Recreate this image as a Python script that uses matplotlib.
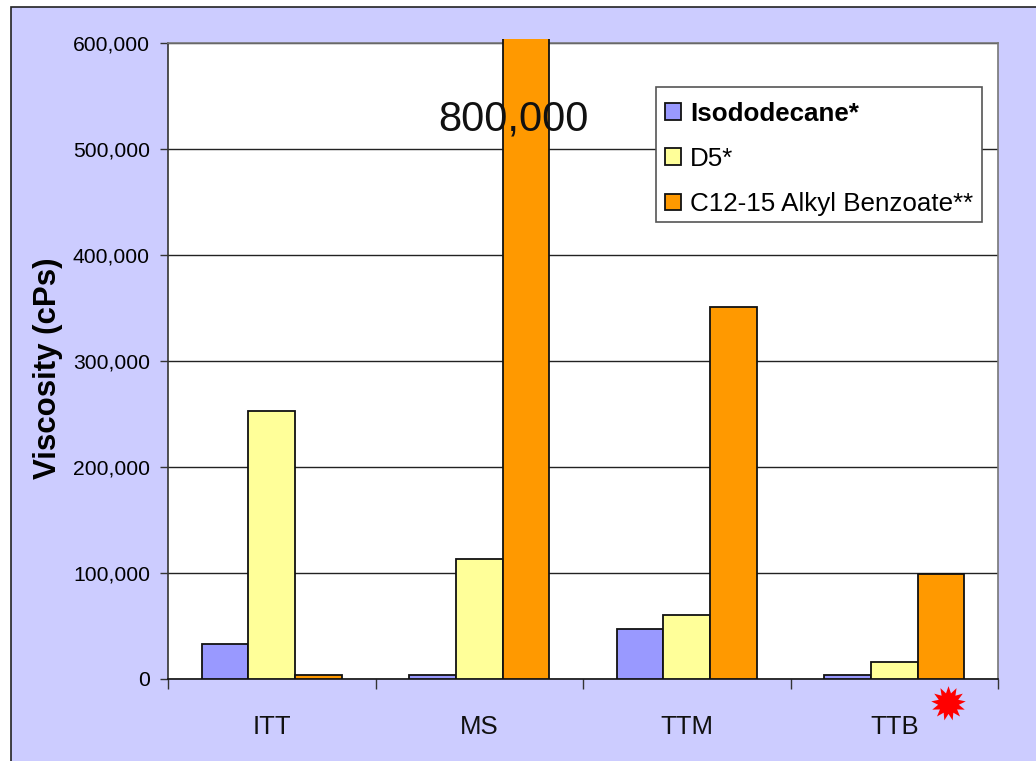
import matplotlib
matplotlib.use("Agg")
import matplotlib.pyplot as plt
from matplotlib.patches import Rectangle
from matplotlib.path import Path
from matplotlib.ticker import FuncFormatter
import numpy as np

plt.rcParams['font.family'] = ['Liberation Sans', 'DejaVu Sans']

categories = ["ITT", "MS", "TTM", "TTB"]
isododecane = [33000, 3000, 47000, 3000]
d5 = [253000, 113000, 60000, 16000]
alkyl_benzoate = [3000, 800000, 351000, 99000]
series_names = ["Isododecane*", "D5*", "C12-15 Alkyl Benzoate**"]
series_colors = ["#9999ff", "#ffff99", "#ff9900"]
y_ticks = [0, 100000, 200000, 300000, 400000, 500000, 600000]

W, H = 1036, 761
fig = plt.figure(figsize=(W / 100, H / 100), dpi=100, facecolor="white")

# chart background, only left and top edges are visible in the crop
fig.patches.append(Rectangle((10.5 / W, -0.1), 1.0, 1.1 - 6.5 / H, transform=fig.transFigure,
                             facecolor="#ccccff", edgecolor="#222222", linewidth=1.2, zorder=-1))

ax = fig.add_axes([168 / W, 1 - 678.5 / H, (998 - 168) / W, (678.5 - 43) / H])
ax.set_facecolor("white")

x = np.arange(len(categories))
width = 0.2245
all_series = [isododecane, d5, alkyl_benzoate]
for i, vals in enumerate(all_series):
    bars = ax.bar(x + (i - 1) * width, vals, width, color=series_colors[i],
                  edgecolor="#111111", linewidth=1.3, label=series_names[i], zorder=3)
    for b in bars:
        # the tall bar pokes slightly above the plot area
        clip = Rectangle((0, 0), 1, 1.006, transform=ax.transAxes)
        b.set_clip_path(clip)

ax.set_xlim(-0.5, 3.5)
ax.set_ylim(0, 600000)
ax.set_yticks(y_ticks)
ax.yaxis.set_major_formatter(FuncFormatter(lambda v, p: f"{int(v):,}"))
ax.set_xticks(np.arange(0, 5) - 0.5)
ax.set_xticklabels([])
ax.tick_params(axis="x", length=7, width=1, color="#333333")
ax.tick_params(axis="y", length=5.5, width=1, color="#333333", labelsize=15.2, pad=7.5)
ax.grid(axis="y", color="#222222", linewidth=1, zorder=0)
ax.set_axisbelow(True)
for s in ax.spines.values():
    s.set_color("#777777")
    s.set_linewidth(1.2)
ax.spines["bottom"].set_color("#111111")
ax.spines["left"].set_color("#333333")

for xi, name in zip(x, categories):
    ax.annotate(name, (xi, 0), xytext=(0, -55), textcoords="offset pixels",
                ha="center", va="baseline", fontsize=18.5, color="#111111", annotation_clip=False)
ax.set_ylabel("Viscosity (cPs)", fontsize=22.5, fontweight="bold")
ax.yaxis.set_label_coords((63 - 168) / (998 - 168), 0.488)

# label for the clipped bar, sits on top of it
ax.text(1.167, 0.88 * 600000, "800,000", fontsize=30, ha="center", va="center",
        zorder=5, color="#111111", clip_on=False)

# legend frame drawn by hand so the rows can sit low in the box like the original
ax.add_patch(Rectangle(((656 - 168) / 830, (678.5 - 222) / 635.5), (982 - 656) / 830, 135 / 635.5,
                       transform=ax.transAxes, facecolor="white", edgecolor="#555555",
                       linewidth=1.2, zorder=6))
leg = ax.legend(loc="upper left", bbox_to_anchor=((665 - 168) / 830, (678.5 - 102) / 635.5),
                fontsize=18.7, frameon=False,
                handlelength=0.62, handleheight=0.62, handletextpad=0.35, labelspacing=0.81,
                borderaxespad=0, borderpad=0)
leg.set_zorder(7)
leg.get_texts()[0].set_fontweight("bold")

# red burst next to TTB
burst = Path.unit_regular_star(13, innerCircle=0.6)
ax.plot([3.26], [-23500], marker=burst, markersize=25, color="#ff0000",
        markeredgewidth=0, clip_on=False, zorder=6)

fig.savefig("out.png", dpi=100, facecolor=fig.get_facecolor())
plt.close(fig)
